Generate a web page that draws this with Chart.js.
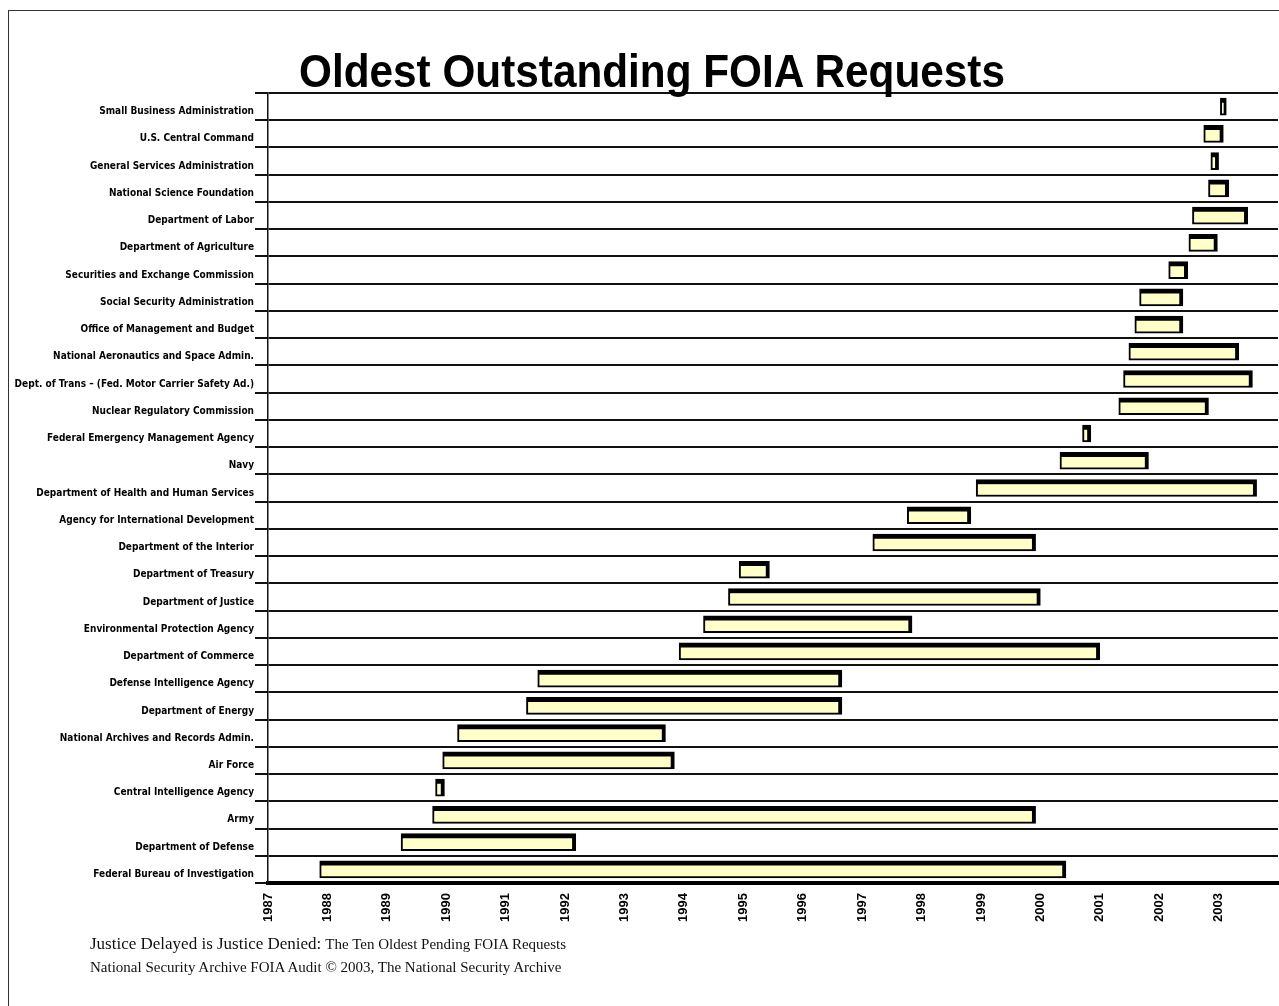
<!DOCTYPE html>
<html>
<head>
<meta charset="utf-8">
<script src="https://cdn.jsdelivr.net/npm/chart.js@4.4.0/dist/chart.umd.min.js"></script>
<style>
  html, body { margin: 0; padding: 0; background: #fff; }
  #wrap { position: relative; width: 1279px; height: 1006px; overflow: hidden; }
  #frame { position: absolute; left: 8px; top: 10px; width: 1300px; height: 1100px;
           border-top: 1.5px solid #333; border-left: 1.5px solid #333; }
  #chart { position: absolute; left: 0; top: 0; }
  #title { position: absolute; left: 652px; top: 43px; transform: translateX(-50%) scaleX(0.9);
           white-space: nowrap; font-family: 'Liberation Sans', Arial, sans-serif; font-weight: bold;
           font-size: 47px; line-height: 56px; color: #000; }
  #foot { position: absolute; left: 90px; top: 932px; font-family: 'Liberation Serif', 'Times New Roman', serif;
          color: #111; line-height: 23px; white-space: nowrap; }
  #foot .big { font-size: 17px; }
  #foot .small { font-size: 15px; }
</style>
</head>
<body>
<div id="wrap">
  <div id="frame"></div>
  <canvas id="chart" width="1279" height="1006"></canvas>
  <div id="title">Oldest Outstanding FOIA Requests</div>
  <div id="foot">
    <div><span class="big">Justice Delayed is Justice Denied:</span> <span class="small">The Ten Oldest Pending FOIA Requests</span></div>
    <div class="small">National Security Archive FOIA Audit © 2003, The National Security Archive</div>
  </div>
</div>
<script>
// agencies, top row first
var agencies = [
  'Small Business Administration',
  'U.S. Central Command',
  'General Services Administration',
  'National Science Foundation',
  'Department of Labor',
  'Department of Agriculture',
  'Securities and Exchange Commission',
  'Social Security Administration',
  'Office of Management and Budget',
  'National Aeronautics and Space Admin.',
  'Dept. of Trans – (Fed. Motor Carrier Safety Ad.)',
  'Nuclear Regulatory Commission',
  'Federal Emergency Management Agency',
  'Navy',
  'Department of Health and Human Services',
  'Agency for International Development',
  'Department of the Interior',
  'Department of Treasury',
  'Department of Justice',
  'Environmental Protection Agency',
  'Department of Commerce',
  'Defense Intelligence Agency',
  'Department of Energy',
  'National Archives and Records Admin.',
  'Air Force',
  'Central Intelligence Agency',
  'Army',
  'Department of Defense',
  'Federal Bureau of Investigation'
];

// request period of the oldest requests (fractional years)
var startYears = [2003.03, 2002.75, 2002.87, 2002.83, 2002.56, 2002.50, 2002.16, 2001.67, 2001.59, 2001.49,
                  2001.40, 2001.32, 2000.71, 2000.33, 1998.92, 1997.76, 1997.18, 1994.93, 1994.75, 1994.33,
                  1993.92, 1991.54, 1991.35, 1990.19, 1989.94, 1989.82, 1989.77, 1989.24, 1987.87];
var endYears   = [2003.13, 2003.08, 2003.00, 2003.17, 2003.49, 2002.98, 2002.48, 2002.40, 2002.40, 2003.34,
                  2003.57, 2002.83, 2000.85, 2001.82, 2003.64, 1998.83, 1999.92, 1995.44, 2000.00, 1997.84,
                  2001.00, 1996.66, 1996.66, 1993.69, 1993.84, 1989.97, 1999.92, 1992.18, 2000.43];

var firstYear = 1987;
var lastYear = 2003;

var spans = [];
for (var i = 0; i < agencies.length; i++) {
  spans.push([startYears[i], endYears[i]]);
}

var ctx = document.getElementById('chart').getContext('2d');
new Chart(ctx, {
  type: 'bar',
  data: {
    labels: agencies,
    datasets: [{
      label: 'Outstanding',
      data: spans,
      backgroundColor: '#FFFFC8',
      borderColor: '#000',
      borderWidth: { top: 5, right: 4, bottom: 2, left: 2 },
      borderSkipped: false,
      barThickness: 17
    }]
  },
  options: {
    indexAxis: 'y',
    responsive: false,
    animation: false,
    layout: { padding: { left: 8, right: 1, top: 93, bottom: 83 } },
    plugins: {
      legend: { display: false },
      tooltip: { enabled: false },
      title: { display: false }
    },
    scales: {
      x: {
        type: 'linear',
        min: firstYear,
        max: lastYear + 1,
        afterFit: function (scale) {
          scale.height = 40;
          scale.paddingLeft = 0;
          scale.paddingRight = 0;
        },
        grid: { display: false },
        border: { display: true, color: '#000', width: 4 },
        ticks: {
          stepSize: 1,
          autoSkip: false,
          minRotation: 90,
          maxRotation: 90,
          padding: 2,
          color: '#000',
          font: { family: "'Liberation Sans', Arial, sans-serif", size: 13, weight: 'bold' },
          callback: function (v) { return v <= lastYear ? String(v) : ''; }
        }
      },
      y: {
        afterFit: function (scale) { scale.width = 260; },
        grid: { color: '#111', lineWidth: 2, tickLength: 13, offset: true },
        border: { display: true, color: '#111', width: 1.5 },
        ticks: {
          autoSkip: false,
          padding: 1,
          labelOffset: 5,
          color: '#000',
          font: { family: "'Liberation Sans Narrow', 'Arial Narrow', 'DejaVu Sans Condensed', sans-serif", size: 10, weight: 'bold' }
        }
      }
    }
  }
});
</script>
</body>
</html>
